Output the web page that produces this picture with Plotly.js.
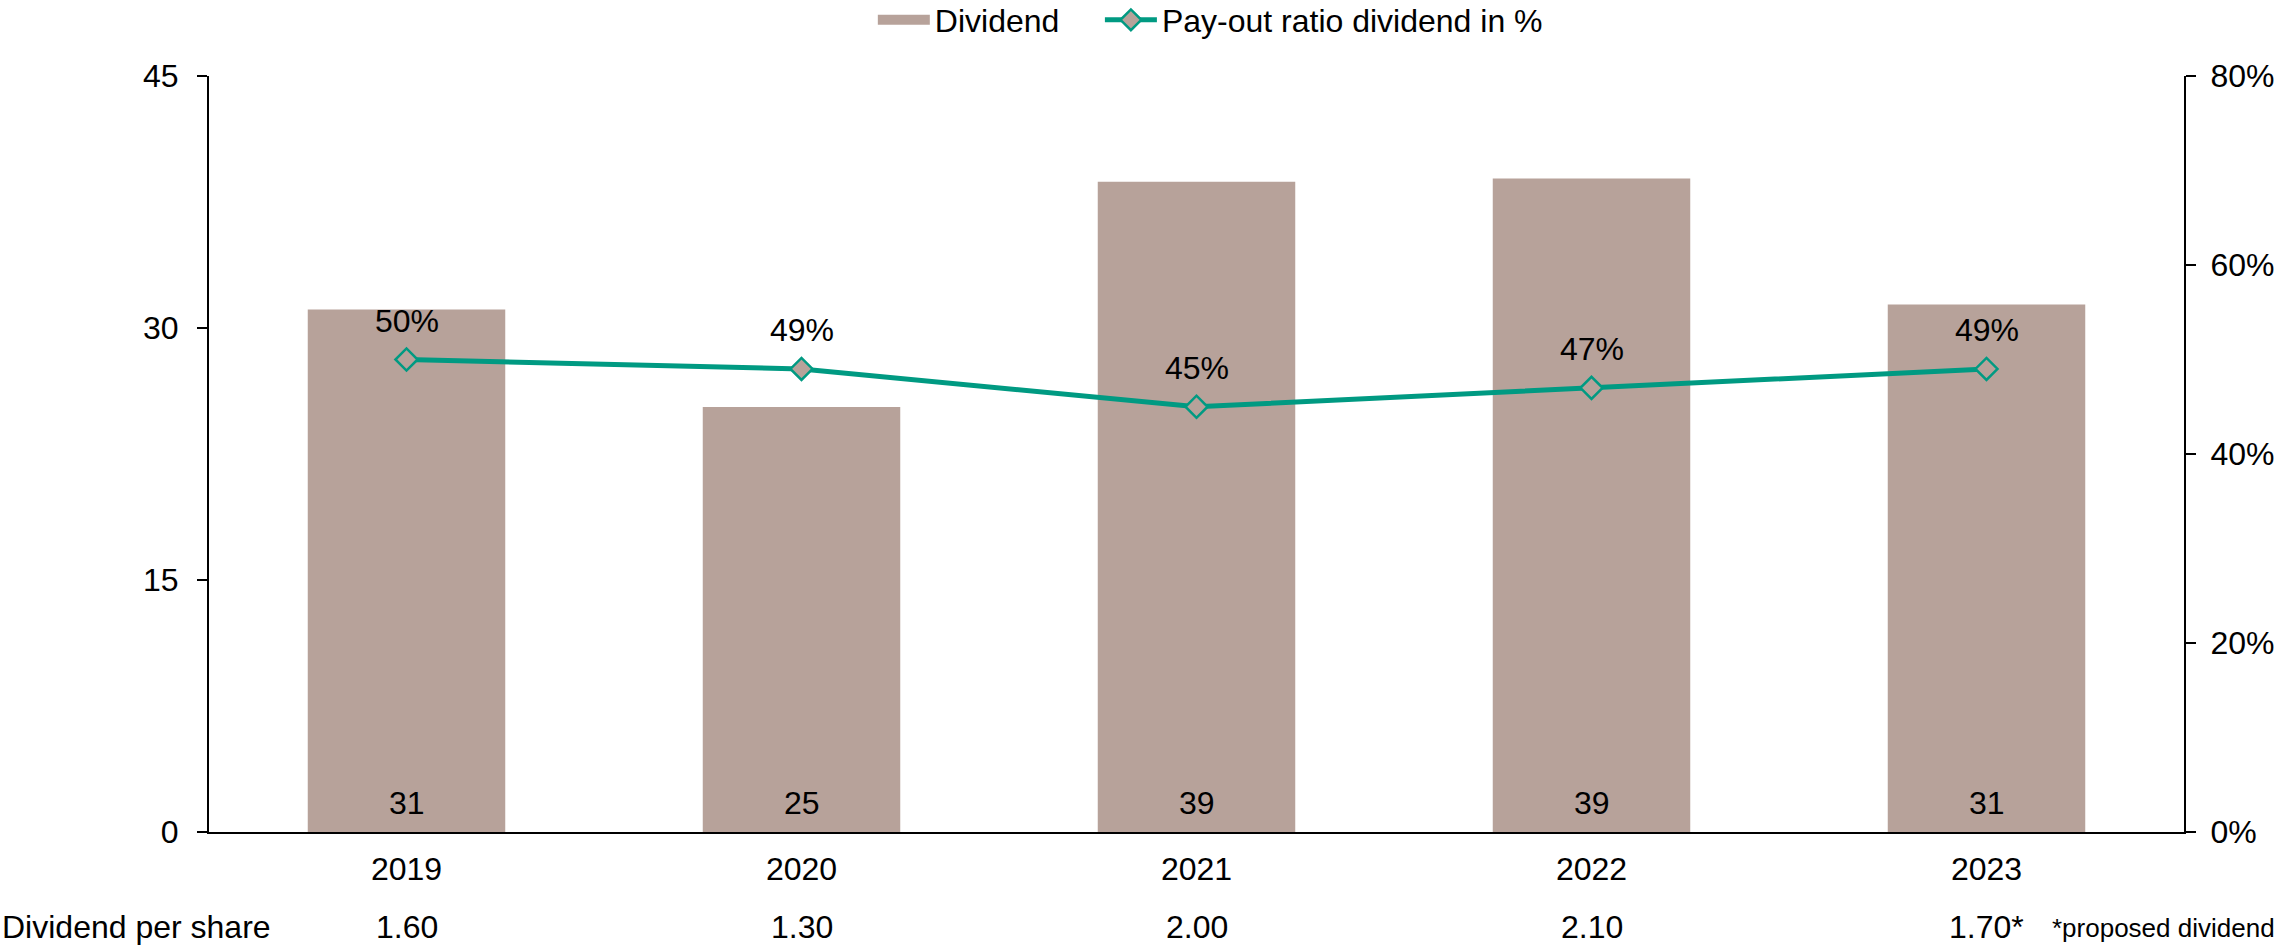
<!DOCTYPE html>
<html>
<head>
<meta charset="utf-8">
<script src="https://cdn.plot.ly/plotly-3.0.1.min.js"></script>
<style>html,body{margin:0;padding:0;background:#fff;}#chart{width:2277px;height:946px;}</style>
</head>
<body>
<div id="chart"></div>
<script>
const years = ["2019", "2020", "2021", "2022", "2023"];
const dividend = [31.1, 25.3, 38.7, 38.9, 31.4];
const dividendLabels = ["31", "25", "39", "39", "31"];
const payoutRatio = [50, 49, 45, 47, 49];
const dividendPerShare = ["1.60", "1.30", "2.00", "2.10", "1.70*"];
const rowTitle = "Dividend per share";
const footnote = "*proposed dividend";

const FONT = "Liberation Sans, Arial, sans-serif";
const FS = 32;
const barColor = "#B7A29A";
const lineColor = "#009A82";
const idx = years.map((_, i) => i);
const NB = "\u00A0";

const traces = [
  {
    type: "bar", name: "Dividend", x: idx, y: dividend, showlegend: false,
    marker: {color: barColor}, hoverinfo: "skip"
  },
  {
    type: "scatter", mode: "lines", name: "Dividend" + NB.repeat(4), x: [null], y: [null],
    line: {color: barColor, width: 16}, showlegend: true, hoverinfo: "skip"
  },
  {
    type: "scatter", mode: "lines+markers", name: "Pay-out ratio dividend in %",
    x: idx, y: payoutRatio, yaxis: "y2",
    line: {color: lineColor, width: 5},
    marker: {symbol: "diamond", size: 17, color: barColor, line: {color: lineColor, width: 2.5}},
    cliponaxis: false
  }
];

const annotations = [];
// bar value labels at base of bars
idx.forEach((xi, i) => {
  annotations.push({
    xref: "x", yref: "y", x: xi, y: 0, yanchor: "middle", xanchor: "center", yshift: 29,
    text: dividendLabels[i], showarrow: false, font: {family: FONT, size: FS, color: "#000"}
  });
});
// pay-out labels above markers
idx.forEach((xi, i) => {
  annotations.push({
    xref: "x", yref: "y2", x: xi, y: payoutRatio[i], yanchor: "middle", xanchor: "center", yshift: 39,
    text: payoutRatio[i] + "%", showarrow: false, font: {family: FONT, size: FS, color: "#000"}
  });
});
annotations.push({
  xref: "paper", yref: "paper", x: -209/1975, y: -0.126, xanchor: "left", yanchor: "middle",
  text: rowTitle, showarrow: false, font: {family: FONT, size: FS, color: "#000"}
});
idx.forEach((xi, i) => {
  annotations.push({
    xref: "x", yref: "paper", x: xi, y: -0.126, xanchor: "center", yanchor: "middle",
    text: dividendPerShare[i], showarrow: false, font: {family: FONT, size: FS, color: "#000"}
  });
});
annotations.push({
  xref: "paper", yref: "paper", x: 1.0, y: -0.127, xanchor: "right", yanchor: "middle", xshift: 93,
  text: footnote, showarrow: false, font: {family: FONT, size: 26, color: "#000"}
});

const layout = {
  width: 2277, height: 946,
  margin: {l: 209, r: 93, t: 76, b: 114},
  paper_bgcolor: "#fff", plot_bgcolor: "#fff",
  font: {family: FONT, size: FS, color: "#000"},
  bargap: 0.5,
  showlegend: true,
  legend: {
    orientation: "h", xref: "paper", x: 0.507, xanchor: "center",
    yref: "container", y: 1 - 20/946, yanchor: "middle",
    font: {family: FONT, size: FS, color: "#000"}, itemwidth: 52, traceorder: "normal"
  },
  xaxis: {
    range: [-0.5, 4.5], tickvals: idx, ticktext: years, showgrid: false, zeroline: false,
    showline: true, linecolor: "#000", linewidth: 2,
    ticks: "", tickfont: {family: FONT, size: FS, color: "#000"},
    ticklabelstandoff: 8
  },
  yaxis: {
    range: [0, 45], dtick: 15, tick0: 0, showgrid: false, zeroline: false,
    showline: true, linecolor: "#000", linewidth: 2,
    ticks: "outside", ticklen: 10, tickwidth: 2, tickcolor: "#000",
    tickfont: {family: FONT, size: FS, color: "#000"}, ticklabelstandoff: 12
  },
  yaxis2: {
    overlaying: "y", side: "right", range: [0, 80], dtick: 20, tick0: 0,
    ticksuffix: "%", showgrid: false, zeroline: false,
    showline: true, linecolor: "#000", linewidth: 2,
    ticks: "outside", ticklen: 10, tickwidth: 2, tickcolor: "#000",
    tickfont: {family: FONT, size: FS, color: "#000"}, ticklabelstandoff: 8
  },
  annotations: annotations
};

Plotly.newPlot("chart", traces, layout, {staticPlot: true, displayModeBar: false});
</script>
</body>
</html>
